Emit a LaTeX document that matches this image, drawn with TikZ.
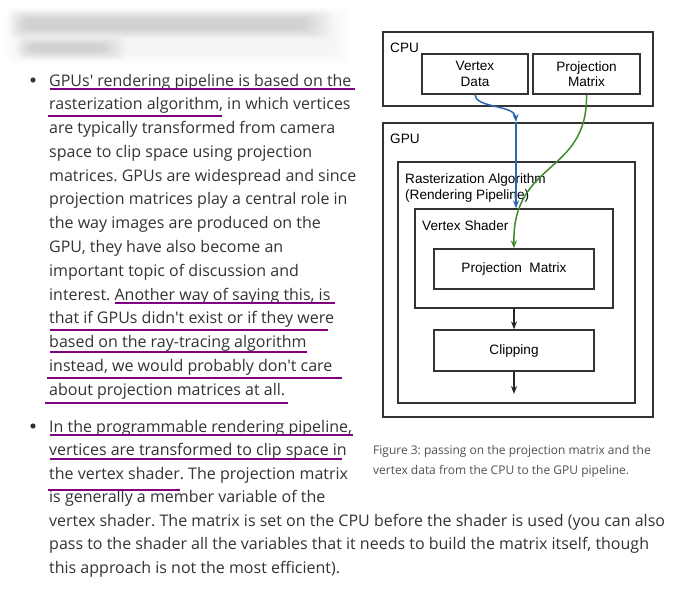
\documentclass[tikz,border=0pt]{standalone}
\usepackage{fontspec}
\setmainfont{Open Sans}
\newfontfamily\diagfont{Liberation Sans}
\usetikzlibrary{arrows.meta}
\definecolor{bodytext}{HTML}{333333}
\definecolor{captext}{HTML}{505050}
\definecolor{markpurple}{HTML}{800080}
\definecolor{vdblue}{HTML}{2B68B0}
\definecolor{pmgreen}{HTML}{3E8A2C}
\newcommand{\apos}{\textquotesingle}
\frenchspacing

\begin{document}
\begin{tikzpicture}[x=1pt,y=-1pt,
    line/.style={anchor=base west, inner sep=0pt, text=bodytext, font=\fontsize{16}{24}\selectfont},
    caption/.style={anchor=base west, inner sep=0pt, text=captext, font=\fontsize{12}{20}\selectfont},
    box/.style={draw=black!80, line width=1.3pt, inner sep=0pt, align=center, font=\diagfont\fontsize{13.6}{15.5}\selectfont},
    tag/.style={anchor=base west, inner sep=0pt, font=\diagfont\fontsize{13.6}{15.5}\selectfont},
    hilite/.style={draw=markpurple, line width=2pt},
    tip/.style={-{Stealth[length=8pt,width=6pt]}, line width=1.5pt}
  ]
    \useasboundingbox (0,0) rectangle (676,590);

    % Blurred heading
    \foreach \k in {0,...,9}
      \fill[black, opacity=0.005, rounded corners=10pt] (4+\k*1.5,6+\k*1.2) rectangle (352-\k*2,65-\k*1.2);
    \foreach \k in {0,...,11}
      \fill[black, opacity=0.011, rounded corners=8pt] (8+\k*1.5,9+\k*0.9) rectangle (332-\k*2.5,39-\k*0.9);
    \foreach \k in {0,...,11}
      \fill[black, opacity=0.012, rounded corners=8pt] (16+\k*1.2,36+\k*0.8) rectangle (126-\k*2,60-\k*0.8);

    % First bullet
    \fill[bodytext] (33,80) circle (2.6pt);
    \node[line] (p1) at (49,86) {GPUs\apos{} rendering pipeline is based on the};
    \node[line] (p2) at (49,109.8) {rasterization algorithm, in which vertices};
    \node[line] (p3) at (49,133.5) {are typically transformed from camera};
    \node[line] (p4) at (49,157.3) {space to clip space using projection};
    \node[line] (p5) at (49,181.1) {matrices. GPUs are widespread and since};
    \node[line] (p6) at (49,204.9) {projection matrices play a central role in};
    \node[line] (p7) at (49,228.6) {the way images are produced on the};
    \node[line] (p8) at (49,252.4) {GPU, they have also become an};
    \node[line] (p9) at (49,276.2) {important topic of discussion and};
    \node[line] (p10) at (49,300) {interest. Another way of saying this, is};
    \node[line] (p11) at (49,323.7) {that if GPUs didn\apos{}t exist or if they were};
    \node[line] (p12) at (49,347.5) {based on the ray-tracing algorithm};
    \node[line] (p13) at (49,371.3) {instead, we would probably don\apos{}t care};
    \node[line] (p14) at (49,395) {about projection matrices at all.};

    % Second bullet
    \fill[bodytext] (33,426) circle (2.6pt);
    \node[line] (q1) at (49,432) {In the programmable rendering pipeline,};
    \node[line] (q2) at (49,455.5) {vertices are transformed to clip space in};
    \node[line] (q3) at (49,479) {the vertex shader. The projection matrix};
    \node[line] (q4) at (49,502.5) {is generally a member variable of the};
    \node[line] (q5) at (49,526) {vertex shader. The matrix is set on the CPU before the shader is used (you can also};
    \node[line] (q6) at (49,549.5) {pass to the shader all the variables that it needs to build the matrix itself, though};
    \node[line] (q7) at (49,573) {this approach is not the most efficient).};

    % Purple underlines
    \draw[hilite] (50,89) -- (355,89);
    \draw[hilite] (48,116) -- (222,116);
    \draw[hilite] (115,303) -- (335,303);
    \draw[hilite] (50,330) -- (328,330);
    \draw[hilite] (50,352) -- (307,352);
    \draw[hilite] (47,378) -- (342,378);
    \draw[hilite] (45,403) -- (288,403);
    \draw[hilite] (50,435) -- (353,435);
    \draw[hilite] (50,459) -- (342,459);
    \draw[hilite] (48,490) -- (180,490);

    % CPU
    \node[box, minimum width=270pt, minimum height=74pt] (cpu) at (518,69) {};
    \node[tag] (cputag) at (390,52) {CPU};
    \node[box, minimum width=106pt, minimum height=40pt] (vdata) at (475,74) {Vertex\\Data};
    \node[box, minimum width=107pt, minimum height=40pt] (pmat) at (586.5,74) {Projection\\Matrix};

    % GPU
    \node[box, minimum width=270pt, minimum height=294pt] (gpu) at (518,270) {};
    \node[tag] (gputag) at (390,143) {GPU};
    \node[box, minimum width=237pt, minimum height=241pt] (raster) at (516.5,282.5) {};
    \node[tag] (rastertag) at (405,183) {Rasterization Algorithm};
    \node[tag] (rastertag2) at (405,199) {(Rendering Pipeline)};
    \node[box, minimum width=198pt, minimum height=99pt] (vshader) at (514,258.5) {};
    \node[tag] (vshadertag) at (422,230) {Vertex Shader};
    \node[box, minimum width=160pt, minimum height=40pt] (pminner) at (514,269) {Projection\ \ Matrix};
    \node[box, minimum width=160pt, minimum height=41pt] (clip) at (514,350.5) {Clipping};
    \coordinate (pipeout) at (514,394);
    \coordinate (bluemid) at (516,122);

    % Edges
    \draw[tip, vdblue] (vdata.south) .. controls (475,108) and (515,105) .. (bluemid);
    \draw[tip, vdblue] (bluemid) -- (vshader.north -| bluemid);
    \draw[tip, pmgreen] (pmat.south) .. controls (588,175) and (512,160) .. (pminner.north);
    \draw[tip, black!85] (vshader.south) -- (clip.north);
    \draw[tip, black!85] (clip.south) -- (pipeout);

    % Caption
    \node[caption] (cap1) at (373,454) {Figure 3: passing on the projection matrix and the};
    \node[caption] (cap2) at (373,474) {vertex data from the CPU to the GPU pipeline.};
\end{tikzpicture}
\end{document}
